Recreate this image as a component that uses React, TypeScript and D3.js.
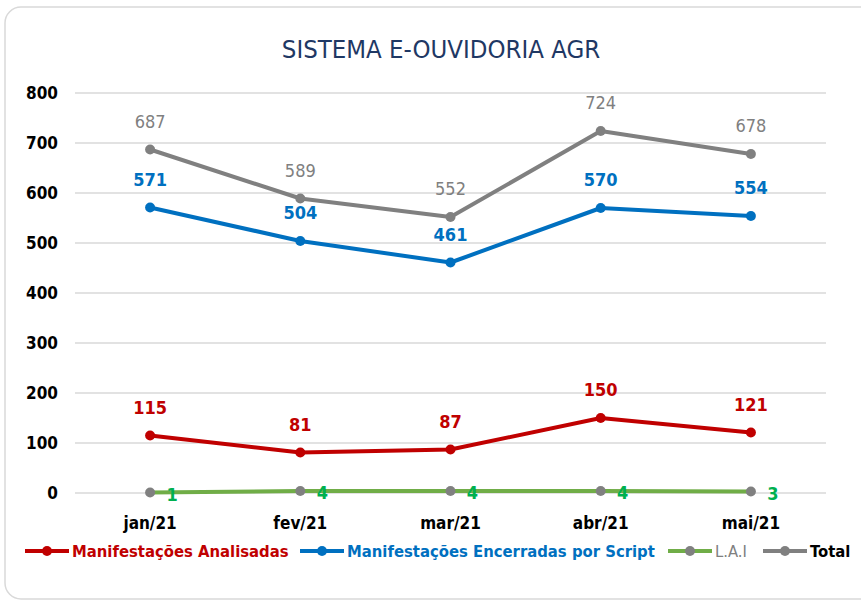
import React, { useEffect, useRef } from "react";
import * as d3 from "d3";

const months = ["jan/21", "fev/21", "mar/21", "abr/21", "mai/21"];
const analisadas = [115, 81, 87, 150, 121];
const encerradas = [571, 504, 461, 570, 554];
const lai = [1, 4, 4, 4, 3];
const total = [687, 589, 552, 724, 678];
const yTicks = [0, 100, 200, 300, 400, 500, 600, 700, 800];

const FONT = "'Liberation Sans Narrow', 'DejaVu Sans Condensed', 'Roboto Condensed', sans-serif";

const App = () => {
    const svgRef = useRef<SVGSVGElement>(null);

    useEffect(() => {
        const width = 861, height = 607;
        const svg = d3.select(svgRef.current)
            .attr("width", width)
            .attr("height", height);
        svg.selectAll("*").remove();

        svg.append("rect")
            .attr("x", 5).attr("y", 7)
            .attr("width", 870).attr("height", 592)
            .attr("rx", 16)
            .attr("fill", "white")
            .attr("stroke", "#d9d9d9")
            .attr("stroke-width", 1.5);

        svg.append("text")
            .attr("x", 441).attr("y", 58)
            .attr("text-anchor", "middle")
            .attr("font-family", FONT)
            .attr("font-stretch", "condensed")
            .attr("font-size", 25.5)
            .attr("fill", "#1f3864")
            .text("SISTEMA E-OUVIDORIA AGR");

        const x = d3.scaleBand().domain(months).range([75, 826]);
        const y = d3.scaleLinear().domain([0, 800]).range([493, 93]);
        const cx = (m: string) => x(m)! + x.bandwidth() / 2;

        svg.append("g").selectAll("line")
            .data(yTicks).enter().append("line")
            .attr("x1", 75).attr("x2", 826)
            .attr("y1", d => y(d)).attr("y2", d => y(d))
            .attr("stroke", "#d9d9d9").attr("stroke-width", 1.5);

        svg.append("g").selectAll("text")
            .data(yTicks).enter().append("text")
            .attr("x", 58).attr("y", d => y(d) + 6)
            .attr("text-anchor", "end")
            .attr("font-family", FONT).attr("font-stretch", "condensed")
            .attr("font-weight", "bold").attr("font-size", 17)
            .attr("fill", "#000")
            .text(d => d);

        svg.append("g").selectAll("text")
            .data(months).enter().append("text")
            .attr("x", d => cx(d)).attr("y", 529)
            .attr("text-anchor", "middle")
            .attr("font-family", FONT).attr("font-stretch", "condensed")
            .attr("font-weight", "bold").attr("font-size", 17)
            .attr("fill", "#000")
            .text(d => d);

        const line = d3.line<number>()
            .x((d, i) => cx(months[i]))
            .y(d => y(d));

        const series = [
            { name: "Manifestações Analisadas", values: analisadas, color: "#c00000", marker: "#c00000", label: "#c00000", bold: true, pos: "above", legendColor: "#c00000" },
            { name: "Manifestações Encerradas por Script", values: encerradas, color: "#0070c0", marker: "#0070c0", label: "#0070c0", bold: true, pos: "above", legendColor: "#0070c0" },
            { name: "L.A.I", values: lai, color: "#70ad47", marker: "#808080", label: "#00b050", bold: true, pos: "right", legendColor: "#808080" },
            { name: "Total", values: total, color: "#808080", marker: "#808080", label: "#808080", bold: false, pos: "above", legendColor: "#000" },
        ];

        series.forEach(s => {
            const g = svg.append("g");
            g.append("path")
                .attr("d", line(s.values))
                .attr("fill", "none")
                .attr("stroke", s.color)
                .attr("stroke-width", 4)
                .attr("stroke-linejoin", "round");
            g.selectAll("circle")
                .data(s.values).enter().append("circle")
                .attr("cx", (d, i) => cx(months[i]))
                .attr("cy", d => y(d))
                .attr("r", 5)
                .attr("fill", s.marker);
            g.selectAll("text")
                .data(s.values).enter().append("text")
                .attr("x", (d, i) => cx(months[i]) + (s.pos === "right" ? 22 : 0))
                .attr("y", d => y(d) + (s.pos === "right" ? 8 : -22))
                .attr("text-anchor", "middle")
                .attr("font-family", FONT).attr("font-stretch", "condensed")
                .attr("font-weight", s.bold ? "bold" : "normal")
                .attr("font-size", 18)
                .attr("fill", s.label)
                .text(d => d);
        });

        // legend
        const legendX = [25, 300, 668, 763];
        const legend = svg.append("g");
        series.forEach((s, i) => {
            const lx = legendX[i];
            legend.append("line")
                .attr("x1", lx).attr("x2", lx + 44)
                .attr("y1", 551).attr("y2", 551)
                .attr("stroke", s.color).attr("stroke-width", 4);
            legend.append("circle")
                .attr("cx", lx + 22).attr("cy", 551).attr("r", 5)
                .attr("fill", s.marker);
            legend.append("text")
                .attr("x", lx + 47).attr("y", 557)
                .attr("font-family", FONT).attr("font-stretch", "condensed")
                .attr("font-weight", i === 2 ? "normal" : "bold")
                .attr("font-size", 16.5)
                .attr("fill", s.legendColor)
                .text(s.name);
        });
    }, []);

    return <svg ref={svgRef} style={{ position: "absolute", left: 0, top: 0 }}></svg>;
};

export default App;
